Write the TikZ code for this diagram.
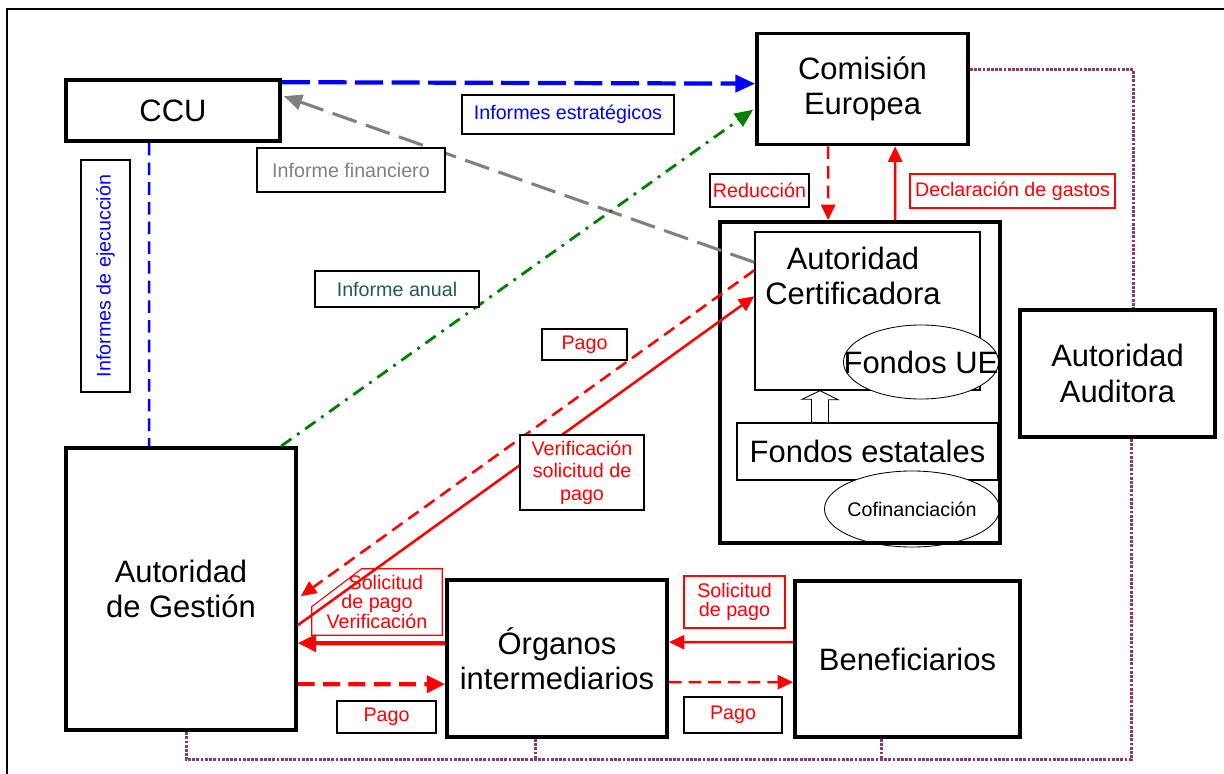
\documentclass[tikz,border=0pt]{standalone}
\usepackage{fontspec}
\setmainfont{Liberation Sans}
\usepackage{xcolor}
\usepackage{tikz}
\usetikzlibrary{arrows.meta,calc,shapes.geometric}
\definecolor{ccublue}{HTML}{0000FF}
\definecolor{finred}{HTML}{FF0000}
\definecolor{repgreen}{HTML}{008000}
\definecolor{repteal}{HTML}{1F5A5A}
\definecolor{fingray}{HTML}{808080}
\definecolor{auditc}{HTML}{8E3A68}
\newcommand{\titlefont}{\fontsize{22}{25}\selectfont}
\newcommand{\labelfont}{\fontsize{14}{16}\selectfont}
\tikzset{
  actor/.style={draw, line width=2.6pt, align=center, font=\titlefont, inner sep=0pt},
  inbox/.style={draw, line width=1pt, align=center, inner sep=0pt},
  fund/.style={ellipse, draw, fill=white, line width=0.6pt, inner sep=0pt},
  hollow/.style={draw, fill=white, line width=0.6pt, line join=miter},
  tag/.style={draw=black, line width=0.8pt, fill=white, font=\labelfont, text=#1, align=center, inner sep=0pt},
  redtag/.style={tag=finred, draw=finred},
  strat/.style={-{Triangle[length=14pt,width=12pt]}, draw=ccublue, line width=3pt, dash pattern=on 20pt off 6pt},
  exec/.style={draw=ccublue, line width=1.8pt, dash pattern=on 9pt off 5pt},
  fin/.style={-{Triangle[length=13pt,width=11pt]}, draw=fingray, line width=2.2pt, dash pattern=on 18pt off 7pt},
  annual/.style={-{Triangle[length=13pt,width=11pt]}, draw=repgreen, line width=2pt, dash pattern=on 9pt off 5pt on 2pt off 5pt},
  pay/.style={-{Triangle[length=11pt,width=10pt]}, draw=finred, line width=1.8pt, dash pattern=on 9pt off 5pt},
  req/.style={-{Triangle[length=11pt,width=10pt]}, draw=finred, line width=1.8pt},
  reqthick/.style={-{Triangle[length=13pt,width=12pt]}, draw=finred, line width=3pt},
  paythick/.style={-{Triangle[length=13pt,width=12pt]}, draw=finred, line width=3pt, dash pattern=on 12pt off 6pt},
  audit/.style={draw=auditc, line width=2.2pt, dash pattern=on 2pt off 1pt},
}

\begin{document}
\begin{tikzpicture}[x=0.025cm,y=-0.025cm]
  \useasboundingbox (0,0) rectangle (1224,774);
  \draw[line width=1pt] (7,774) -- (7,9) -- (1224,9);
  \node[actor, minimum width=5.35cm, minimum height=1.525cm] (ccu) at (173,110.5) {CCU};
  \node[actor, minimum width=5.275cm, minimum height=2.775cm] (ce) at (862.5,89) {Comisión\\Europea};
  \node[inbox, minimum width=5.625cm, minimum height=3.95cm] (acin) at (867.5,311) {};
  \node[font=\titlefont, align=center] (actxt) at (853,276) {Autoridad\\Certificadora};
  \node[fund, minimum width=3.875cm, minimum height=1.85cm, label={[font=\titlefont]center:Fondos UE}] (fue) at (921,362) {};
  \node[inbox, fill=white, minimum width=6.525cm, minimum height=1.425cm, font=\titlefont] (fest) at (867.5,451.5) {Fondos estatales};
  \node[fund, minimum width=4.375cm, minimum height=1.9cm, label={[font=\labelfont]center:Cofinanciación}] (cof) at (912,509) {};
  \coordinate (upb) at ($(fest.north)+(-47.5,0)$);
  \draw[hollow] (upb) ++(-8.5,0) -- ++(0,-23) -- ++(-9.5,0) -- (upb |- acin.south) -- ++(18,9)
    -- ++(-9.5,0) -- ++(0,23) -- cycle;
  \node[actor, minimum width=7cm, minimum height=8.025cm] (ac) at (860,382.5) {};
  \node[actor, minimum width=4.875cm, minimum height=3.175cm] (aud) at (1117.5,373.5) {Autoridad\\Auditora};
  \node[actor, minimum width=5.75cm, minimum height=7.05cm] (ag) at (181,589) {Autoridad\\de Gestión};
  \node[actor, minimum width=5.5cm, minimum height=3.925cm] (org) at (557,658.5) {Órganos\\intermediarios};
  \node[actor, minimum width=5.625cm, minimum height=3.9cm] (ben) at (907.5,659) {Beneficiarios};
  \draw[strat] ($(ccu.north east)+(0,4)$) -- ($(ce.north west)+(0,52)$);
  \draw[exec] ($(ccu.south west)+(85,0)$) -- ($(ag.north west)+(85,0)$);
  \draw[fin] ($(acin.north west)+(0,31)$) -- ($(ccu.north east)+(2,18)$);
  \draw[annual] ($(ag.north west)+(217,0)$) -- ($(ce.north west)+(-2,78)$);
  \draw[pay] ($(ce.south west)+(73,0)$) -- ($(ac.north west)+(110,0)$);
  \draw[req] ($(ac.north west)+(177,0)$) -- ($(ce.south west)+(140,0)$);
  \draw[pay] ($(acin.north west)+(0,39)$) -- ($(ag.north east)+(3,150)$);
  \draw[req] ($(ag.north east)+(0,179)$) -- ($(acin.north west)+(0,65)$);
  \draw[reqthick] ($(org.north west)+(0,65)$) -- ($(ag.north east)+(0,197)$);
  \draw[paythick] ($(ag.north east)+(0,238)$) -- ($(org.north west)+(0,106)$);
  \draw[req] ($(ben.north west)+(0,63)$) -- ($(org.north east)+(0,64)$);
  \draw[pay] ($(org.north east)+(0,104)$) -- ($(ben.north west)+(0,103)$);
  \draw[audit] ($(ce.north east)+(0,38)$) -| ($(aud.north west)+(115,0)$);
  \draw[audit] ($(aud.south west)+(113,0)$) |- ($(ag.south west)+(122,28)$) -- ($(ag.south west)+(122,0)$);
  \draw[audit] ($(org.south west)+(90,0)$) -- ++(0,21);
  \draw[audit] ($(ben.south west)+(88,0)$) -- ++(0,21);
  \node[tag=ccublue, minimum width=5.3cm, minimum height=0.975cm] (lstrat) at (568,114.5) {Informes estratégicos};
  \node[tag=ccublue, rotate=90, minimum width=5.8cm, minimum height=1.225cm] (lexec) at (105.5,276) {Informes de ejecucción};
  \node[tag=fingray, minimum width=4.7cm, minimum height=1.1cm] (lfin) at (351,170) {Informe financiero};
  \node[tag=repteal, minimum width=4.1cm, minimum height=0.9cm] (lanual) at (397,289) {Informe anual};
  \node[tag=finred, minimum width=2.475cm, minimum height=0.825cm] (lred) at (759.5,190.5) {Reducción};
  \node[redtag, minimum width=5.125cm, minimum height=0.85cm] (ldecl) at (1012.5,191) {Declaración de gastos};
  \node[tag=finred, minimum width=2.125cm, minimum height=0.775cm] (lpago) at (584.5,344.5) {Pago};
  \node[tag=finred, minimum width=3.1cm, minimum height=1.875cm] (lverif) at (582,472.5) {Verificación\\solicitud de\\pago};
  \node[font=\fontsize{14}{13}\selectfont, text=finred, align=center, inner sep=0pt, minimum width=3.25cm, minimum height=1.65cm] (lsolv) at (377,602) {\hspace*{0.9em}Solicitud\\de pago\\Verificación};
  \draw[draw=finred, line width=0.8pt] (lsolv.south west) -- (lsolv.south east) -- (lsolv.north east)
    -- ($(lsolv.north west)+(50,0)$) -- ($(lsolv.north west)+(0,38)$) -- cycle;
  \node[tag=finred, minimum width=2.475cm, minimum height=0.8cm] (lpagoA) at (386.5,717) {Pago};
  \node[redtag, font=\fontsize{14}{14}\selectfont, minimum width=2.525cm, minimum height=1.3cm] (lsolB) at (734.5,602) {Solicitud\\de pago};
  \node[tag=finred, minimum width=2.45cm, minimum height=0.9cm] (lpagoB) at (733,715) {Pago};
\end{tikzpicture}
\end{document}
